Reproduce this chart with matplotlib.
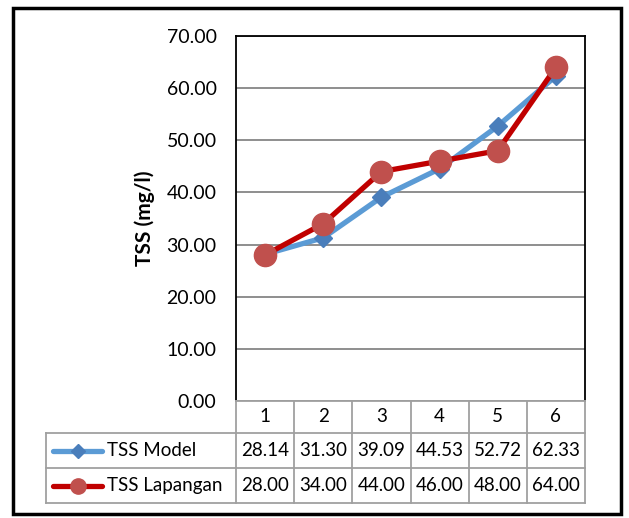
import matplotlib.pyplot as plt
from matplotlib.patches import Rectangle
from matplotlib.lines import Line2D

plt.rcParams['font.family'] = ['Lato', 'DejaVu Sans']

# data
categories = [1, 2, 3, 4, 5, 6]
tss_model = [28.14, 31.30, 39.09, 44.53, 52.72, 62.33]
tss_lapangan = [28.00, 34.00, 44.00, 46.00, 48.00, 64.00]
series_names = ['TSS Model', 'TSS Lapangan']
y_ticks = [0, 10, 20, 30, 40, 50, 60, 70]

W, H = 629, 518
fig = plt.figure(figsize=(W / 100, H / 100), dpi=100)

def fx(px):
    return px / W

def fy(py):
    return 1 - py / H

# plot area (pixel coords of the reference)
left, right, top, bottom = 236, 585, 36, 401
ax = fig.add_axes([fx(left), fy(bottom), fx(right) - fx(left), fy(top) - fy(bottom)])

ax.plot(categories, tss_model, color='#5B9BD5', lw=3.8, marker='D', ms=9.5,
        mfc='#4A7EBB', mec='#4A7EBB', zorder=3, solid_capstyle='round')
ax.plot(categories, tss_lapangan, color='#C00000', lw=3.8, marker='o', ms=16,
        mfc='#C0504D', mec='#C0504D', zorder=4, solid_capstyle='round')

ax.set_xlim(0.5, 6.5)
ax.set_ylim(0, 70)
ax.set_yticks(y_ticks)
ax.set_yticklabels([f'{v:.2f}' for v in y_ticks], fontsize=14)
ax.set_xticks([])
ax.tick_params(axis='y', length=0, pad=14)
ax.yaxis.grid(True, color='#868686', lw=1.3)
ax.set_axisbelow(True)
for s in ['top', 'right', 'left']:
    ax.spines[s].set_color('black')
    ax.spines[s].set_linewidth(1.3)
ax.spines['bottom'].set_visible(False)
ax.set_ylabel('TSS (mg/l)', fontsize=15, fontweight='bold', labelpad=8)

# data table drawn in figure coordinates
grid_c = '#A0A0A0'
col_w = (right - left) / len(categories)
row_y = [401, 433, 468, 503]
tab_left = 46
tfs = 13.5

def hline(x0, x1, y):
    fig.add_artist(Line2D([fx(x0), fx(x1)], [fy(y), fy(y)], color=grid_c, lw=1.3))

def vline(x, y0, y1):
    fig.add_artist(Line2D([fx(x), fx(x)], [fy(y0), fy(y1)], color=grid_c, lw=1.3))

hline(left, right, row_y[0])
hline(tab_left, right, row_y[1])
hline(tab_left, right, row_y[2])
hline(tab_left, right, row_y[3])
vline(tab_left, row_y[1], row_y[3])
for i in range(len(categories) + 1):
    vline(left + i * col_w, row_y[0], row_y[3])

for i, c in enumerate(categories):
    cx = left + (i + 0.5) * col_w
    fig.text(fx(cx), fy((row_y[0] + row_y[1]) / 2), str(c), ha='center', va='center', fontsize=tfs)
    fig.text(fx(cx), fy((row_y[1] + row_y[2]) / 2), f'{tss_model[i]:.2f}', ha='center', va='center', fontsize=tfs)
    fig.text(fx(cx), fy((row_y[2] + row_y[3]) / 2), f'{tss_lapangan[i]:.2f}', ha='center', va='center', fontsize=tfs)

# legend keys inside the table
keys = [('#5B9BD5', 'D', 7, '#4A7EBB'), ('#C00000', 'o', 11, '#C0504D')]
for r, (name, (lc, mk, ms, mc)) in enumerate(zip(series_names, keys)):
    yc = fy((row_y[r + 1] + row_y[r + 2]) / 2)
    fig.add_artist(Line2D([fx(53), fx(102)], [yc, yc], color=lc, lw=3.8, solid_capstyle='round'))
    fig.add_artist(Line2D([fx(78)], [yc], marker=mk, ms=ms, mfc=mc, mec=mc, lw=0))
    fig.text(fx(107), yc, name, ha='left', va='center', fontsize=tfs)

# outer chart border
fig.add_artist(Rectangle((fx(13), fy(514)), fx(621) - fx(13), fy(8) - fy(514),
                         fill=False, ec='black', lw=2.5))

fig.savefig('out.png', dpi=100)
